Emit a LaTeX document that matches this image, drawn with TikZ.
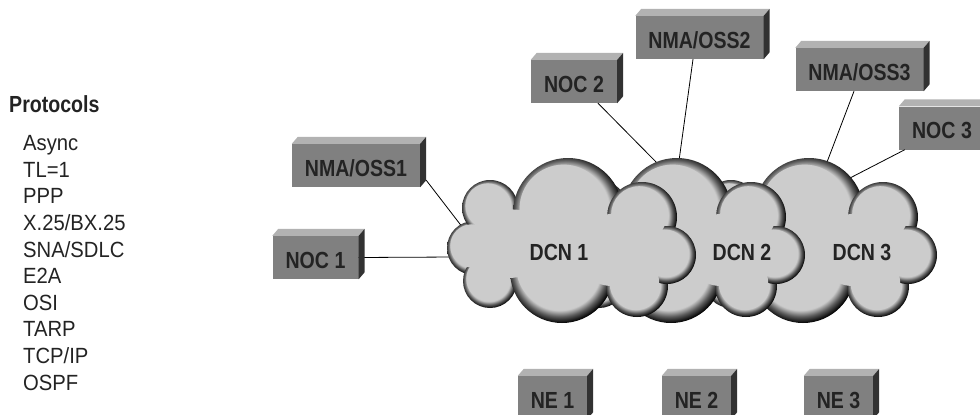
\documentclass[tikz,border=0pt]{standalone}
\usepackage{fontspec}
\newfontfamily\labelfont[FakeStretch=0.84]{Liberation Sans}
\newfontfamily\listfont[FakeStretch=0.92]{Liberation Sans}
\usetikzlibrary{calc}
\definecolor{boxfront}{RGB}{128,128,128}
\definecolor{boxtop}{RGB}{178,178,178}
\definecolor{boxside}{RGB}{50,50,50}
\definecolor{labelink}{RGB}{35,35,35}
\definecolor{cloudgray}{RGB}{204,204,204}
\definecolor{rimgray}{RGB}{90,90,90}
% dark rim on each cloud bump, light from the upper left
\pgfdeclareradialshading{cloudrim}{\pgfpoint{-2bp}{2bp}}{color(0bp)=(cloudgray); color(20bp)=(cloudgray); color(23bp)=(rimgray); color(26bp)=(black); color(50bp)=(black)}

\begin{document}
\begin{tikzpicture}[x=1pt,y=-1pt]
  \tikzstyle{unit}=[rectangle, fill=boxfront, inner sep=0pt, minimum height=43pt, text height=21.7pt, text depth=0pt, text=labelink, font={\labelfont\bfseries\fontsize{23.3pt}{28pt}\selectfont}]
  \tikzstyle{nocbox}=[unit, minimum width=86pt]
  \tikzstyle{ossbox}=[unit, minimum width=128pt]
  \tikzstyle{nebox}=[unit, minimum width=69pt]
  \tikzstyle{dcn}=[inner sep=0pt, text=labelink, font={\labelfont\bfseries\fontsize{23.3pt}{28pt}\selectfont}]
  \tikzstyle{item}=[anchor=base west, inner sep=0pt, text=labelink, font={\listfont\fontsize{22pt}{26pt}\selectfont}]
  \tikzstyle{link}=[draw, line width=0.8pt]

  \useasboundingbox (0,0) rectangle (980,415);

  % protocol list
  \node[item, font={\labelfont\bfseries\fontsize{23.3pt}{28pt}\selectfont}] (proto) at (9,112.7) {Protocols};
  \foreach \p [count=\i] in {Async,TL=1,PPP,X.25/BX.25,SNA/SDLC,E2A,OSI,TARP,TCP/IP,OSPF}
    \node[item] (p\i) at (23,{150.7+26.6*(\i-1)}) {\p};

  % management stations and network elements
  \node[nocbox] (noc1) at (315.5,257.5) {NOC 1};
  \node[ossbox] (oss1) at (356,165.5) {NMA/OSS1};
  \node[nocbox] (noc2) at (574,81.5) {NOC 2};
  \node[ossbox] (oss2) at (699.5,37.5) {NMA/OSS2};
  \node[ossbox] (oss3) at (859.5,69.5) {NMA/OSS3};
  \node[nocbox] (noc3) at (942,128) {NOC 3};
  \node[nebox] (ne1) at (552.5,397.5) {NE 1};
  \node[nebox] (ne2) at (696.5,397.5) {NE 2};
  \node[nebox] (ne3) at (838.5,397.5) {NE 3};

  % where the links enter the clouds
  \coordinate (d1w) at (455,257);
  \coordinate (d1nw) at (463,228);
  \coordinate (d2nw) at (660,166);
  \coordinate (d2n) at (678,168);
  \coordinate (d3n) at (824,170);
  \coordinate (d3ne) at (850,178);

  \draw[link] (noc1.east) -- (d1w);
  \draw[link] ([xshift=6pt,yshift=7pt]oss1.south east) -- (d1nw);
  \draw[link] ([xshift=24pt]noc2.south) -- (d2nw);
  \draw[link] ([xshift=-6.5pt]oss2.south) -- (d2n);
  \draw[link] ([xshift=-5.5pt]oss3.south) -- (d3n);
  \draw[link] ([xshift=6pt]noc3.south west) -- (d3ne);

  % top and side faces of the boxes
  \foreach \b in {noc1,oss1,noc2,oss2,oss3,noc3,ne1,ne2,ne3}{
    \fill[boxtop] (\b.north west) -- ++(6,-7) -- ([xshift=6pt,yshift=7pt]\b.north east) -- (\b.north east) -- cycle;
    \fill[boxside] (\b.north east) -- ++(6,-7) -- ([xshift=6pt,yshift=7pt]\b.south east) -- (\b.south east) -- cycle;
  }

  % DCN clouds, back to front
  \def\bumps{27/248/27, 43/208/28, 43/281/27, 121/213/55, 115/271/52, 195/217/35, 190/286/31, 220/255/29}
  \foreach \L in {688,556,447}{
    \foreach \cx/\cy/\cr in \bumps
      \shade[shading=cloudrim] ({\L+\cx},\cy) circle (\cr);
    \foreach \cx/\cy/\cr in \bumps
      \fill[cloudgray] ({\L+\cx-0.08*\cr},{\cy-0.08*\cr}) circle ({0.8*\cr});
    % body between the bumps
    \fill[cloudgray] ({\L+27},248) -- ({\L+43},208) -- ({\L+121},213) -- ({\L+195},217)
      -- ({\L+220},255) -- ({\L+190},286) -- ({\L+115},271) -- ({\L+43},281) -- cycle;
    \fill[cloudgray] ({\L+165},250) circle (36);
  }

  \node[dcn] (dcn1) at (559,252) {DCN 1};
  \node[dcn] (dcn2) at (742,252) {DCN 2};
  \node[dcn] (dcn3) at (862,252) {DCN 3};
\end{tikzpicture}
\end{document}
